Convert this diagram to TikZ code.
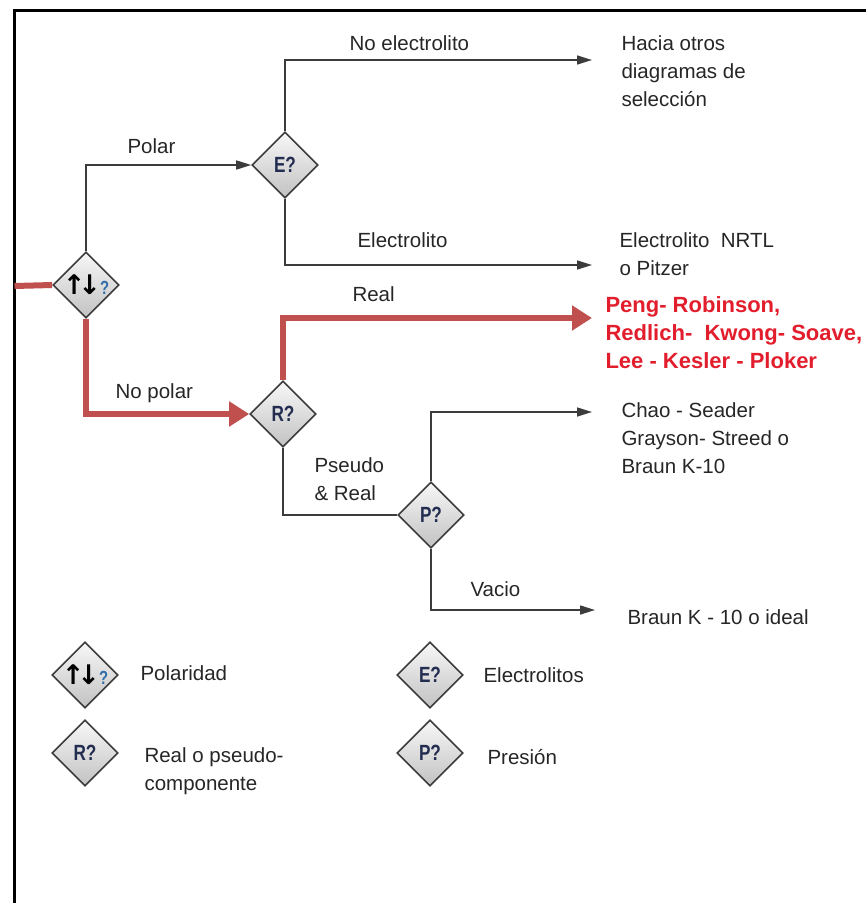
\documentclass[tikz,border=0pt]{standalone}
\usepackage{fontspec}
\setmainfont{Liberation Sans}
\newfontfamily\symfont{DejaVu Sans}
\newfontfamily\tagfont[FakeStretch=0.78]{Liberation Sans}
\usetikzlibrary{shapes.geometric,arrows.meta}

\definecolor{flowred}{RGB}{192,80,77}
\definecolor{textred}{RGB}{226,30,45}
\definecolor{linegray}{RGB}{60,60,60}
\definecolor{tagblue}{RGB}{35,45,80}
\definecolor{qblue}{RGB}{50,110,170}

\newcommand{\polsym}{{\symfont\fontsize{27}{27}\selectfont\textcolor{black}{↑\kern-7pt↓}}\kern-1pt{\tagfont\fontsize{19}{19}\selectfont\bfseries\textcolor{qblue}{?}}}

\begin{document}
\begin{tikzpicture}[x=1pt, y=-1pt,
  decision/.style={diamond, draw=linegray, line width=1.6pt, inner sep=0pt,
    minimum width=66pt, minimum height=66pt, top color=gray!6, bottom color=gray!48,
    font=\tagfont\fontsize{22}{22}\selectfont\bfseries, text=tagblue},
  flow/.style={line width=1.6pt, draw=linegray},
  arrow/.style={flow, -{Triangle[length=15pt,width=9pt]}},
  redflow/.style={line width=6pt, draw=flowred},
  redarrow/.style={redflow, -{Triangle[length=20pt,width=24pt]}},
  label/.style={anchor=west, font=\fontsize{20.5}{28}\selectfont, text=black!85, align=left},
  result/.style={label, font=\fontsize{22}{28}\selectfont\bfseries, text=textred}
 ]
\useasboundingbox (0,0) rectangle (866,903);
% frame
\draw[line width=3.5pt] (866,10.5) -- (14.5,10.5) -- (14.5,903);

% decisions
\node[decision] (pol) at (86,285) {\polsym};
\node[decision] (ele) at (285,165) {E?};
\node[decision] (rea) at (283,414) {R?};
\node[decision] (pre) at (431,515) {P?};

\coordinate (in) at (14.5,286);
\coordinate (t1) at (592,60);
\coordinate (t2) at (592,265);
\coordinate (t3) at (592,318);
\coordinate (t4) at (592,412);
\coordinate (t5) at (595,610);

% connectors
\draw[arrow] (pol.north) |- (ele.west);
\draw[arrow] (ele.north) |- (t1);
\draw[arrow] (ele.south) |- (t2);
\draw[redflow] (in) -- (pol.west);
\draw[redarrow] (pol.south) |- (rea.west);
\draw[redarrow] (rea.north) |- (t3);
\draw[flow] (rea.south) |- (pre.west);
\draw[arrow] (pre.north) |- (t4);
\draw[arrow] (pre.south) |- (t5);

\node[label] (lpolar) at (124,146) {Polar};
\node[label] (lnoele) at (346,43) {No electrolito};
\node[label] (lele) at (354,240) {Electrolito};
\node[label] (lreal) at (349,294) {Real};
\node[label] (lnopol) at (112,393) {No polar};
\node[label] (lpseudo) at (311,479) {Pseudo\\\& Real};
\node[label] (lvacio) at (467,589) {Vacio};

% outcomes
\node[label] (o1) at (618,71) {Hacia otros\\diagramas de\\selección};
\node[label] (o2) at (616,254) {Electrolito~ NRTL\\o Pitzer};
\node[result] (o3) at (602,333) {Peng- Robinson,\\Redlich-~ Kwong- Soave,\\Lee - Kesler - Ploker};
\node[label] (o4) at (618,438) {Chao - Seader\\Grayson- Streed o\\Braun K-10};
\node[label] (o5) at (624,617) {Braun K - 10 o ideal};

% legend
\node[decision] (kpol) at (85,675) {\polsym};
\node[decision] (krea) at (85,753) {R?};
\node[decision] (kele) at (430,675) {E?};
\node[decision] (kpre) at (430,753) {P?};
\node[label] (npol) at (137,673) {Polaridad};
\node[label] (nrea) at (141,771) {Real o pseudo-\\componente};
\node[label] (nele) at (480,675) {Electrolitos};
\node[label] (npre) at (484,757) {Presión};
\end{tikzpicture}
\end{document}
